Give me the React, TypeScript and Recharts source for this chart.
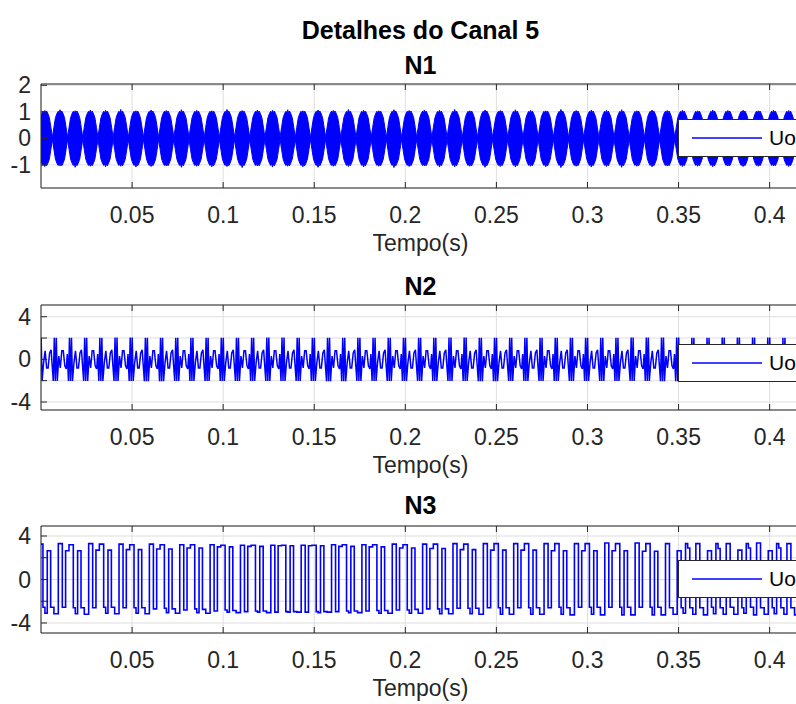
import React from 'react'
import {
  ComposedChart, Line, Area, XAxis, YAxis, CartesianGrid, ReferenceArea, Legend,
} from 'recharts'

/*
  "Detalhes do Canal 5" — three stacked MATLAB-style subplots (N1, N2, N3)
  of the channel output Uo over 0 … 0.4167 s (25 cycles at 60 Hz).
  The figure is cropped on the right, so the plot box runs a few px past
  the page edge and the legends are cut off.
*/

// ── text ──────────────────────────────────────────────────────────────
const TITLE = 'Detalhes do Canal 5'
const PANEL_TITLES = ['N1', 'N2', 'N3']
const X_LABEL = 'Tempo(s)'
const SERIES_NAME = 'Uo'

// ── axes ──────────────────────────────────────────────────────────────
const T_END = 0.41667
const X_TICKS = [0.05, 0.1, 0.15, 0.2, 0.25, 0.3, 0.35, 0.4]
const N1_Y_DOMAIN = [-1.87, 2.05]
const N1_Y_TICKS = [-1, 0, 1, 2]
const N1_Y_LABELS = [-1, 0, 1, 2]
const N2_Y_DOMAIN = [-4.75, 5.1]
const N3_Y_DOMAIN = [-4.92, 4.92]
const N23_Y_TICKS = [-4, -2, 0, 2, 4]
const N23_Y_LABELS = [-4, 0, 4]

// ── N1: 120 Hz lobes of a fast carrier, drawn as its envelope ────────
const N1_LOBE_HZ = 120
const N1_FIRST_NECK = -0.00208
// envelope across one lobe (phase 0 = neck), jagged near the top; index 6 is the lobe peak
const N1_PHASE = [0, 0.1, 0.2, 0.3, 0.38, 0.44, 0.5, 0.56, 0.62, 0.7, 0.8, 0.9]
const N1_SHAPE = [0.04, 0.42, 0.78, 0.94, 1.02, 0.96, 1.05, 0.97, 1.03, 0.94, 0.78, 0.42]
const N1_PEAK_AT = 6
const N1_HI = [
  1.05, 1.08, 1.04, 1.07, 1.06, 1.09, 1.04, 1.07, 1.05, 1.08,
  1.06, 1.04, 1.09, 1.05, 1.07, 1.06, 1.08, 1.04, 1.07, 1.05,
  1.09, 1.06, 1.04, 1.08, 1.05, 1.07, 1.06, 1.09, 1.04, 1.07,
  1.05, 1.08, 1.06, 1.04, 1.09, 1.05, 1.07, 1.06, 1.08, 1.04,
  1.07, 1.05, 1.06, 1.04, 1.07, 1.05, 1.06, 1.04, 1.06, 1.05, 1.06,
]
const N1_LO = [
  -1.06, -1.04, -1.09, -1.05, -1.07, -1.05, -1.08, -1.06, -1.04, -1.09,
  -1.05, -1.07, -1.06, -1.10, -1.04, -1.08, -1.05, -1.07, -1.09, -1.05,
  -1.06, -1.08, -1.05, -1.10, -1.06, -1.04, -1.08, -1.07, -1.05, -1.09,
  -1.06, -1.08, -1.05, -1.07, -1.10, -1.05, -1.08, -1.06, -1.09, -1.05,
  -1.07, -1.04, -1.06, -1.05, -1.07, -1.04, -1.06, -1.05, -1.04, -1.06, -1.05,
]

// ── N2: one 60 Hz cycle (±2 = spike, filled per cycle) ─
const N2_START = 0.00675
const N2_PHASE = [
  0, 0.033, 0.066, 0.099, 0.132, 0.181, 0.231, 0.28, 0.329, 0.379, 0.428, 0.461,
  0.5, 0.533, 0.566, 0.599, 0.632, 0.681, 0.731, 0.78, 0.829, 0.879, 0.928, 0.961,
]
const N2_SHAPE = [
  -2, 2, -2, 2, -2, 0.3, -0.8, 0.8, 0.8, -0.6, -0.9, 0.5,
  -2, 2, -2, 2, -2, -0.3, 0.8, -0.8, -0.8, 0.6, 0.9, -0.5,
]
// spike heights per cycle, cycles -1 … 24
const N2_TOP = [
  2.02, 2.03, 2.02, 2.04, 2.02, 2.03, 2.02, 2.03, 2.04, 2.02, 2.03, 2.02, 2.03,
  2.02, 2.04, 2.02, 2.03, 2.02, 2.03, 2.02, 2.04, 2.05, 2.03, 2.05, 2.04, 2.03,
]
const N2_BOT = [
  -2.02, -2.03, -2.02, -2.03, -2.04, -2.02, -2.03, -2.02, -2.03, -2.02, -2.04, -2.02, -2.03,
  -2.02, -2.03, -2.04, -2.02, -2.03, -2.02, -2.03, -2.02, -2.04, -2.03, -2.02, -2.03, -2.02,
]

// ── N3: stepped square wave, three pulses per 60 Hz cycle ─────────────
const N3_FIRST_RISE = 0.0095
// transition phases: early cycles [h1 l1 h2a h2b l2a l2b h3 l3a l3b]
const N3_EARLY_PHASE = [0, 0.132, 0.24, 0.352, 0.494, 0.56, 0.636, 0.748, 0.856]
// late cycles (t > 0.34) [h1 l1a l1b h2 l2a l2b h3a h3b l3a l3b]
const N3_LATE_PHASE = [0, 0.13, 0.25, 0.385, 0.515, 0.58, 0.66, 0.73, 0.8, 0.9]
const N3_LEVELS = [
  [3.3, -2.55, 2.65, 3.25, -2.55, -3.1, 2.65, -2.55, -3.15],
  [3.3, -2.55, 2.65, 3.2, -2.6, -3.15, 2.65, -2.6, -3.2],
  [3.3, -2.6, 2.7, 3.25, -2.55, -3.1, 2.7, -2.55, -3.15],
  [3.25, -2.6, 2.75, 3.2, -2.6, -3.1, 2.75, -2.6, -3.15],
  [3.25, -2.7, 2.8, 3.2, -2.65, -3.05, 2.8, -2.7, -3.1],
  [3.2, -2.8, 2.9, 3.2, -2.7, -3.05, 2.9, -2.75, -3.1],
  [3.2, -2.9, 3.0, 3.15, -2.8, -3.0, 3.0, -2.85, -3.05],
  [3.15, -2.95, 3.05, 3.15, -2.9, -3.0, 3.05, -2.9, -3.05],
  [3.15, -3.0, 3.1, 3.15, -2.95, -3.0, 3.1, -2.95, -3.0],
  [3.15, -3.0, 3.1, 3.15, -2.95, -3.05, 3.1, -2.95, -3.0],
  [3.2, -2.95, 3.05, 3.2, -2.9, -3.05, 3.05, -2.9, -3.05],
  [3.2, -2.9, 3.0, 3.2, -2.85, -3.1, 3.0, -2.85, -3.1],
  [3.25, -2.8, 2.9, 3.2, -2.8, -3.1, 2.9, -2.75, -3.1],
  [3.25, -2.7, 2.85, 3.25, -2.7, -3.15, 2.85, -2.7, -3.15],
  [3.3, -2.65, 2.75, 3.25, -2.65, -3.15, 2.75, -2.65, -3.2],
  [3.3, -2.6, 2.7, 3.3, -2.6, -3.2, 2.7, -2.6, -3.2],
  [3.3, -2.6, 2.7, 3.3, -2.6, -3.2, 2.7, -2.6, -3.2],
  [3.3, -2.6, 2.65, 3.3, -2.55, -3.2, 2.65, -2.6, -3.25],
  [3.3, -2.55, 2.65, 3.3, -2.55, -3.2, 2.65, -2.55, -3.25],
  [3.35, -2.55, 2.65, 3.3, -2.55, -3.25, 2.65, -2.55, -3.25],
  [3.35, -2.55, 2.6, 3.3, -2.55, -3.25, 2.6, -2.55, -3.25],
  [3.3, -2.6, -3.2, 2.65, -2.6, -3.1, 3.3, 2.9, -2.6, -3.2],
  [3.3, -2.6, -3.25, 2.65, -2.55, -3.15, 3.3, 2.85, -2.6, -3.2],
  [3.3, -2.55, -3.2, 2.7, -2.6, -3.1, 3.3, 2.9, -2.55, -3.25],
  [3.35, -2.6, -3.2, 2.65, -2.6, -3.15, 3.3, 2.9, -2.6, -3.2],
  [3.3, -2.6, -3.25, 2.65, -2.55, -3.1, 3.3, 2.85, -2.6, -3.2],
]

// ── build chart rows ─────────────────────────────────────────────────
const n1Data: { t: number; band: number[] }[] = []
N1_HI.forEach((hi, k) => {
  const neck = N1_FIRST_NECK + k / N1_LOBE_HZ
  N1_PHASE.forEach((p, j) => {
    const up = j === N1_PEAK_AT ? hi : N1_SHAPE[j]
    const lo = j === N1_PEAK_AT ? N1_LO[k] : -N1_SHAPE[j]
    n1Data.push({ t: neck + p / N1_LOBE_HZ, band: [lo, up] })
  })
})
n1Data.push({ t: N1_FIRST_NECK + N1_HI.length / N1_LOBE_HZ, band: [-N1_SHAPE[0], N1_SHAPE[0]] })

const n2Data: { t: number; v: number }[] = []
N2_TOP.forEach((top, k) => {
  const start = N2_START + (k - 1) / 60
  N2_PHASE.forEach((p, j) => {
    const s = N2_SHAPE[j]
    n2Data.push({ t: start + p / 60, v: s === 2 ? top : s === -2 ? N2_BOT[k] : s })
  })
})

const n3Data: { t: number; v: number }[] = []
N3_LEVELS.forEach((row, k) => {
  const start = N3_FIRST_RISE + (k - 1) / 60
  const phases = row.length === N3_EARLY_PHASE.length ? N3_EARLY_PHASE : N3_LATE_PHASE
  row.forEach((v, j) => n3Data.push({ t: start + phases[j] / 60, v }))
})

// ── look ─────────────────────────────────────────────────────────────
const FONT = '"Liberation Sans", Arial, Helvetica, sans-serif'
const INK = '#262626'
const BLUE = '#0000ff'
const GRID = '#dedede'
const TICK_FS = 23
const LEGEND_FS = 21
const TITLE_FS = 25

const CHART_W = 830
const PLOT_LEFT = 41
const PLOT_RIGHT = 800
const PAD_TOP = 20
const X_AXIS_H = 80
const LEGEND_LEFT = 678

const PANELS = [
  { plotTop: 84, plotH: 104, yDomain: N1_Y_DOMAIN, yTicks: N1_Y_TICKS, yLabels: N1_Y_LABELS, titleY: 65, legendTop: 119 },
  { plotTop: 305, plotH: 105, yDomain: N2_Y_DOMAIN, yTicks: N23_Y_TICKS, yLabels: N23_Y_LABELS, titleY: 286, legendTop: 344 },
  { plotTop: 526, plotH: 107, yDomain: N3_Y_DOMAIN, yTicks: N23_Y_TICKS, yLabels: N23_Y_LABELS, titleY: 505, legendTop: 560 },
]

function XTick(props: any) {
  const { x, y, payload, plotH } = props
  return (
    <g>
      <line x1={x} x2={x} y1={y} y2={y - 6} stroke={INK} />
      <line x1={x} x2={x} y1={y - plotH} y2={y - plotH + 6} stroke={INK} />
      <text x={x} y={y + 27} textAnchor="middle" dominantBaseline="central"
        fontSize={TICK_FS} fontFamily={FONT} fill={INK}>{String(payload.value)}</text>
    </g>
  )
}

function YTick(props: any) {
  const { x, y, payload, labels } = props
  return (
    <g>
      <line x1={x} x2={x + 6} y1={y} y2={y} stroke={INK} />
      {labels.includes(payload.value) && (
        <text x={x - 10} y={y} textAnchor="end" dominantBaseline="central"
          fontSize={TICK_FS} fontFamily={FONT} fill={INK}>{String(payload.value)}</text>
      )}
    </g>
  )
}

function LegendBox() {
  return (
    <div style={{
      position: 'relative', width: 140, height: 38, boxSizing: 'border-box',
      border: `1px solid ${INK}`, background: '#fff', fontFamily: FONT,
    }}>
      <svg width={140} height={36} style={{ position: 'absolute', left: 0, top: 0 }}>
        <line x1={13} x2={83} y1={18} y2={18} stroke={BLUE} strokeWidth={1.5} />
      </svg>
      <span style={{ position: 'absolute', left: 90, top: 5, fontSize: LEGEND_FS, lineHeight: '26px', color: '#000' }}>
        {SERIES_NAME}
      </span>
    </div>
  )
}

function Panel({ cfg, data, children }: { cfg: typeof PANELS[number]; data: any[]; children: React.ReactNode }) {
  const { plotTop, plotH, yDomain, yTicks, yLabels, legendTop } = cfg
  const top = plotTop - PAD_TOP
  return (
    <div style={{ position: 'absolute', left: 0, top }}>
      <ComposedChart width={CHART_W} height={PAD_TOP + plotH + X_AXIS_H} data={data}
        margin={{ top: PAD_TOP, right: CHART_W - PLOT_RIGHT, bottom: 0, left: 0 }}>
        <CartesianGrid stroke={GRID} />
        <XAxis dataKey="t" type="number" domain={[0, T_END]} ticks={X_TICKS} allowDataOverflow
          interval={0} height={X_AXIS_H} tickSize={0} tickMargin={0} tickLine={false} axisLine={false}
          tick={(p: any) => <XTick {...p} plotH={plotH} />}
          label={{ value: X_LABEL, position: 'insideTop', offset: 47, fill: INK, fontSize: TICK_FS, fontFamily: FONT }} />
        <YAxis type="number" domain={yDomain} ticks={yTicks} allowDataOverflow interval={0}
          width={PLOT_LEFT} tickSize={0} tickMargin={0} tickLine={false} axisLine={false}
          tick={(p: any) => <YTick {...p} labels={yLabels} />} />
        {children}
        <ReferenceArea x1={0} x2={T_END} y1={yDomain[0]} y2={yDomain[1]} fill="none" stroke={INK} strokeWidth={1} />
        <Legend layout="vertical" align="center" verticalAlign="middle" content={() => <LegendBox />}
          wrapperStyle={{ left: LEGEND_LEFT, top: legendTop - top, width: 140, height: 38 }} />
      </ComposedChart>
    </div>
  )
}

const titleStyle = (cy: number): React.CSSProperties => ({
  position: 'absolute', left: PLOT_LEFT, width: PLOT_RIGHT - PLOT_LEFT, top: cy - 15,
  textAlign: 'center', fontSize: TITLE_FS, fontWeight: 'bold', lineHeight: '30px', color: '#000',
})

export default function App() {
  return (
    <div style={{
      position: 'fixed', left: 0, top: 0, width: 796, height: 704, overflow: 'hidden',
      background: '#fff', fontFamily: FONT,
    }}>
      <div style={titleStyle(30)}>{TITLE}</div>
      {PANELS.map((p, i) => <div key={i} style={titleStyle(p.titleY)}>{PANEL_TITLES[i]}</div>)}

      <Panel cfg={PANELS[0]} data={n1Data}>
        <Area type="linear" dataKey="band" stroke={BLUE} strokeWidth={1} fill={BLUE} fillOpacity={1}
          dot={false} activeDot={false} isAnimationActive={false} name={SERIES_NAME} />
      </Panel>
      <Panel cfg={PANELS[1]} data={n2Data}>
        <Line type="linear" dataKey="v" stroke={BLUE} strokeWidth={1.5} dot={false} activeDot={false}
          isAnimationActive={false} name={SERIES_NAME} />
      </Panel>
      <Panel cfg={PANELS[2]} data={n3Data}>
        <Line type="stepAfter" dataKey="v" stroke={BLUE} strokeWidth={1.6} dot={false} activeDot={false}
          isAnimationActive={false} name={SERIES_NAME} />
      </Panel>
    </div>
  )
}
